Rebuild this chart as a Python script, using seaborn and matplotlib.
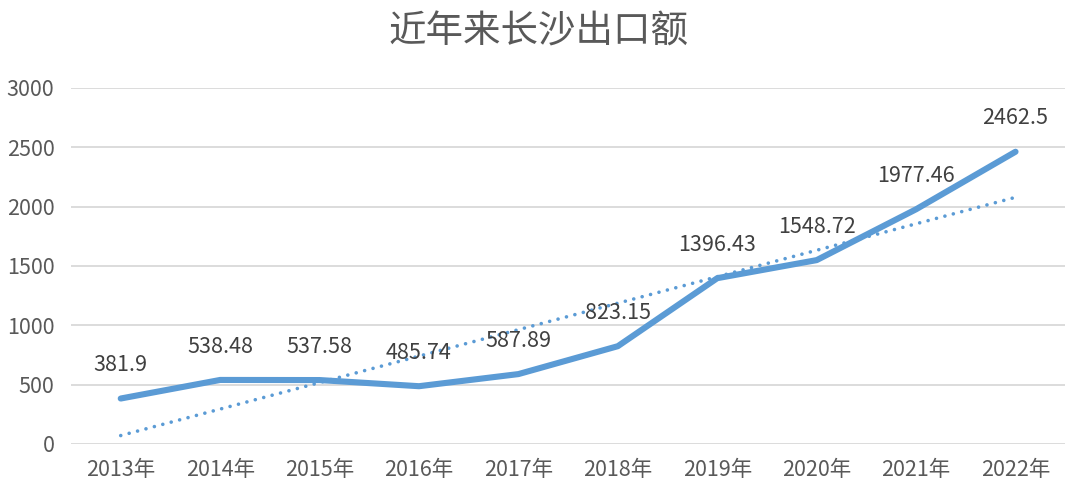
import numpy as np
import pandas as pd
import seaborn as sns
import matplotlib.pyplot as plt

years = ["2013年", "2014年", "2015年", "2016年", "2017年",
         "2018年", "2019年", "2020年", "2021年", "2022年"]
values = [381.9, 538.48, 537.58, 485.74, 587.89,
          823.15, 1396.43, 1548.72, 1977.46, 2462.5]
labels = ["381.9", "538.48", "537.58", "485.74", "587.89",
          "823.15", "1396.43", "1548.72", "1977.46", "2462.5"]
yticks = [0, 500, 1000, 1500, 2000, 2500, 3000]

sns.set_theme(style="white")
plt.rcParams["font.family"] = ["Noto Sans CJK SC", "DejaVu Sans"]

df = pd.DataFrame({"pos": np.arange(len(years)), "year": years, "value": values})

blue = "#5B9BD5"
fig, ax = plt.subplots(figsize=(10.76, 4.97), dpi=100)
fig.subplots_adjust(left=0.066, right=0.99, top=0.823, bottom=0.107)

ax.grid(axis="y", color="#D9D9D9", linewidth=1.3)
ax.set_axisbelow(True)

# linear trendline (dotted)
sns.regplot(data=df, x="pos", y="value", ax=ax, scatter=False, ci=None,
            truncate=True,
            line_kws=dict(color=blue, linewidth=2.6, dashes=(0.01, 2.4),
                          dash_capstyle="round", zorder=2))

sns.lineplot(data=df, x="pos", y="value", ax=ax, color=blue, linewidth=4.4,
             solid_capstyle="round", solid_joinstyle="round", zorder=3)

for x, y, t in zip(df["pos"], values, labels):
    ax.annotate(t, (x, y), xytext=(0, 24), textcoords="offset points",
                ha="center", va="center", fontsize=15.5, color="#404040")

ax.set_xlim(-0.5, len(years) - 0.5)
ax.set_ylim(0, 3000)
ax.set_xticks(df["pos"])
ax.set_xticklabels(years)
ax.set_yticks(yticks)
ax.set_yticklabels([str(v) for v in yticks])
ax.tick_params(axis="both", labelsize=15.5, colors="#595959", length=0)
ax.tick_params(axis="y", pad=12)
ax.tick_params(axis="x", pad=11)
ax.set_xlabel("")
ax.set_ylabel("")
for s in ax.spines.values():
    s.set_visible(False)

fig.suptitle("近年来长沙出口额", y=0.975, fontsize=27, color="#595959")

fig.savefig("out.png", dpi=100)
